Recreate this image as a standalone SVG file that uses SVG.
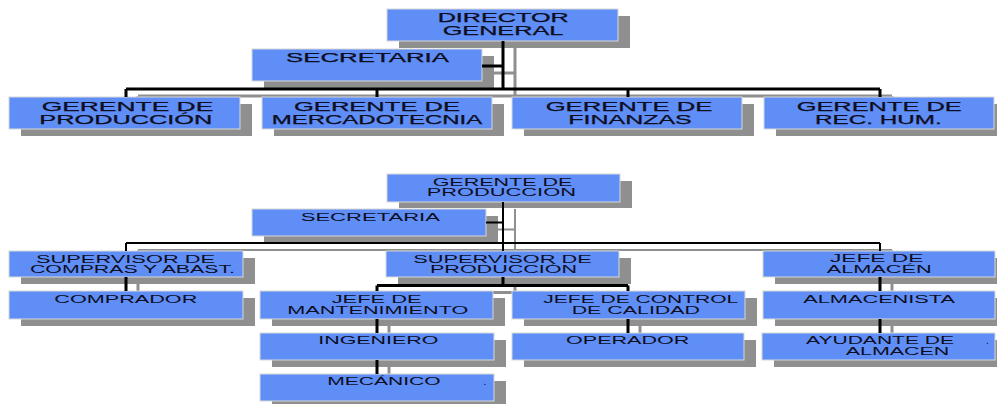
<svg xmlns="http://www.w3.org/2000/svg" width="997" height="404" viewBox="0 0 997 404">
<style>
  .sh { fill: #8f8f8f; }
  .bx { fill: #5f8ef6; stroke: #d8d8d8; stroke-width: 1; }
  .t1 { font-family: "Liberation Sans", Arial, sans-serif; font-size: 12px; fill: #0d0d1f; stroke: #0d0d1f; stroke-width: 0.25; }
  .t2 { font-family: "Liberation Sans", Arial, sans-serif; font-size: 10px; fill: #0d0d1f; }
  .cs { stroke: #8f8f8f; fill: none; }
  .cl { stroke: #000; fill: none; }
  .w3 { stroke-width: 3; }
  .w2 { stroke-width: 2; }
</style>
<rect width="997" height="404" fill="#fff"/>

<g id="connector-shadows" transform="translate(12,7)">
  <path class="cs w3" d="M503 41V89M482 66H503M126 89H880M126 89V97M377 89V97M628 89V97M880 89V97"/>
  <path class="cs w2" d="M503 202V251M486 222.5H503M126 243H880M126 243V251M880 243V251"/>
  <path class="cs w3" d="M126 277V291M503 277V285.5M377 285.5H628M377 285.5V291M628 285.5V291M880 277V291M377 319V333M377 360V374M628 319V333M880 319V333"/>
</g>

<g id="director-general">
  <rect class="sh" x="399" y="16" width="231" height="32"/>
  <rect class="bx" x="387" y="9" width="231" height="32"/>
  <text class="t1" x="437.7" y="22" textLength="131" lengthAdjust="spacingAndGlyphs">DIRECTOR</text>
  <text class="t1" x="442.7" y="35" textLength="120.6" lengthAdjust="spacingAndGlyphs">GENERAL</text>
</g>
<g id="secretaria-1">
  <rect class="sh" x="264" y="56" width="230" height="32"/>
  <rect class="bx" x="252" y="49" width="230" height="32"/>
  <text class="t1" x="286" y="62.3" textLength="163" lengthAdjust="spacingAndGlyphs">SECRETARIA</text>
</g>
<g id="gerente-produccion">
  <rect class="sh" x="21" y="104" width="231" height="32"/>
  <rect class="bx" x="9" y="97" width="231" height="32"/>
  <text class="t1" x="41.7" y="110.7" textLength="171.6" lengthAdjust="spacingAndGlyphs">GERENTE DE</text>
  <text class="t1" x="39.3" y="123.5" textLength="173" lengthAdjust="spacingAndGlyphs">PRODUCCIÓN</text>
</g>
<g id="gerente-mercadotecnia">
  <rect class="sh" x="274" y="104" width="230" height="32"/>
  <rect class="bx" x="262" y="97" width="230" height="32"/>
  <text class="t1" x="294" y="111" textLength="166" lengthAdjust="spacingAndGlyphs">GERENTE DE</text>
  <text class="t1" x="271.7" y="124" textLength="210.6" lengthAdjust="spacingAndGlyphs">MERCADOTECNIA</text>
</g>
<g id="gerente-finanzas">
  <rect class="sh" x="524" y="104" width="230" height="32"/>
  <rect class="bx" x="512" y="97" width="230" height="32"/>
  <text class="t1" x="545.7" y="111" textLength="166.6" lengthAdjust="spacingAndGlyphs">GERENTE DE</text>
  <text class="t1" x="568.3" y="124" textLength="123.4" lengthAdjust="spacingAndGlyphs">FINANZAS</text>
</g>
<g id="gerente-rec-hum">
  <rect class="sh" x="776" y="104" width="230" height="32"/>
  <rect class="bx" x="764" y="97" width="230" height="32"/>
  <text class="t1" x="796.7" y="111" textLength="165" lengthAdjust="spacingAndGlyphs">GERENTE DE</text>
  <text class="t1" x="815" y="124" textLength="126.7" lengthAdjust="spacingAndGlyphs">REC. HUM.</text>
</g>

<g id="gerente-produccion-2">
  <rect class="sh" x="399" y="181" width="233" height="27"/>
  <rect class="bx" x="387" y="174" width="233" height="28"/>
  <text class="t2" x="432.7" y="185.7" textLength="139.6" lengthAdjust="spacingAndGlyphs">GERENTE DE</text>
  <text class="t2" x="426.7" y="196" textLength="149.3" lengthAdjust="spacingAndGlyphs">PRODUCCION</text>
</g>
<g id="secretaria-2">
  <rect class="sh" x="264" y="216" width="234" height="27"/>
  <rect class="bx" x="252" y="209" width="234" height="27"/>
  <text class="t2" x="300.7" y="220.7" textLength="139.3" lengthAdjust="spacingAndGlyphs">SECRETARIA</text>
</g>
<g id="supervisor-compras">
  <rect class="sh" x="21" y="258" width="234" height="26"/>
  <rect class="bx" x="9" y="251" width="234" height="26"/>
  <text class="t2" x="36" y="263" textLength="179" lengthAdjust="spacingAndGlyphs">SUPERVISOR DE</text>
  <text class="t2" x="30" y="273.3" textLength="205" lengthAdjust="spacingAndGlyphs">COMPRAS Y ABAST.</text>
</g>
<g id="supervisor-produccion">
  <rect class="sh" x="398" y="258" width="233" height="26"/>
  <rect class="bx" x="386" y="251" width="233" height="26"/>
  <text class="t2" x="413.3" y="263" textLength="178.4" lengthAdjust="spacingAndGlyphs">SUPERVISOR DE</text>
  <text class="t2" x="430" y="273.3" textLength="147" lengthAdjust="spacingAndGlyphs">PRODUCCIÓN</text>
</g>
<g id="jefe-almacen">
  <rect class="sh" x="775" y="258" width="232" height="26"/>
  <rect class="bx" x="763" y="251" width="232" height="26"/>
  <text class="t2" x="830" y="262.3" textLength="93.3" lengthAdjust="spacingAndGlyphs">JEFE DE</text>
  <text class="t2" x="826.7" y="273" textLength="105" lengthAdjust="spacingAndGlyphs">ALMACÉN</text>
</g>
<g id="comprador">
  <rect class="sh" x="21" y="298" width="234" height="28"/>
  <rect class="bx" x="9" y="291" width="234" height="28"/>
  <text class="t2" x="54.3" y="303.3" textLength="143" lengthAdjust="spacingAndGlyphs">COMPRADOR</text>
</g>
<g id="jefe-mantenimiento">
  <rect class="sh" x="272" y="298" width="233" height="28"/>
  <rect class="bx" x="260" y="291" width="233" height="28"/>
  <text class="t2" x="331.7" y="302.7" textLength="90" lengthAdjust="spacingAndGlyphs">JEFE DE</text>
  <text class="t2" x="287.3" y="314" textLength="181" lengthAdjust="spacingAndGlyphs">MANTENIMIENTO</text>
</g>
<g id="jefe-control-calidad">
  <rect class="sh" x="524" y="298" width="233" height="28"/>
  <rect class="bx" x="512" y="291" width="233" height="28"/>
  <text class="t2" x="543.3" y="303.3" textLength="195" lengthAdjust="spacingAndGlyphs">JEFE DE CONTROL</text>
  <text class="t2" x="571.7" y="314" textLength="128.3" lengthAdjust="spacingAndGlyphs">DE CALIDAD</text>
</g>
<g id="almacenista">
  <rect class="sh" x="775" y="298" width="232" height="28"/>
  <rect class="bx" x="763" y="291" width="232" height="28"/>
  <text class="t2" x="803.3" y="303.3" textLength="151.7" lengthAdjust="spacingAndGlyphs">ALMACENISTA</text>
</g>
<g id="ingeniero">
  <rect class="sh" x="272" y="340" width="234" height="27"/>
  <rect class="bx" x="260" y="333" width="234" height="27"/>
  <text class="t2" x="318.3" y="344.3" textLength="120" lengthAdjust="spacingAndGlyphs">INGENIERO</text>
</g>
<g id="operador">
  <rect class="sh" x="524" y="340" width="232" height="27"/>
  <rect class="bx" x="512" y="333" width="232" height="27"/>
  <text class="t2" x="566" y="344.3" textLength="123.3" lengthAdjust="spacingAndGlyphs">OPERADOR</text>
</g>
<g id="ayudante-almacen">
  <rect class="sh" x="774" y="340" width="233" height="27"/>
  <rect class="bx" x="762" y="333" width="233" height="27"/>
  <text class="t2" x="806" y="344.3" textLength="148" lengthAdjust="spacingAndGlyphs">AYUDANTE DE</text>
  <text class="t2" x="986" y="344.3">.</text>
  <text class="t2" x="845.7" y="355" textLength="103.6" lengthAdjust="spacingAndGlyphs">ALMACEN</text>
</g>
<g id="mecanico">
  <rect class="sh" x="272" y="381" width="234" height="27"/>
  <rect class="bx" x="260" y="374" width="234" height="27"/>
  <text class="t2" x="327.3" y="385" textLength="113.4" lengthAdjust="spacingAndGlyphs">MECÁNICO</text>
  <text class="t2" x="483.5" y="385">.</text>
</g>

<g id="connectors">
  <path class="cl w3" d="M503 41V89M482 66H503M126 89H880M126 89V97M377 89V97M628 89V97M880 89V97"/>
  <path class="cl w2" d="M503 202V251M486 222.5H503M126 243H880M126 243V251M880 243V251"/>
  <path class="cl w3" d="M126 277V291M503 277V285.5M377 285.5H628M377 285.5V291M628 285.5V291M880 277V291M377 319V333M377 360V374M628 319V333M880 319V333"/>
</g>
</svg>
